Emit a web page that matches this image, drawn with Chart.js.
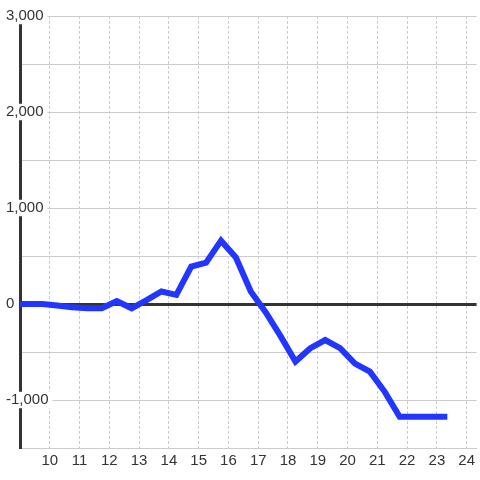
<!DOCTYPE html>
<html>
<head>
<meta charset="utf-8">
<script src="https://cdn.jsdelivr.net/npm/chart.js@4/dist/chart.umd.min.js"></script>
<style>
  html, body { margin: 0; padding: 0; background: #fff; }
  #wrap { width: 480px; height: 480px; position: relative; }
</style>
</head>
<body>
<div id="wrap"><canvas id="chart"></canvas></div>
<script>
// hour of day (half-hour steps) and value at that time
const hours = [8.75, 9.25, 9.75, 10.25, 10.75, 11.25, 11.75, 12.25, 12.75, 13.25,
               13.75, 14.25, 14.75, 15.25, 15.75, 16.25, 16.75, 17.25, 17.75, 18.25,
               18.75, 19.25, 19.75, 20.25, 20.75, 21.25, 21.75, 22.25, 22.75, 23.25];
const values = [0, 0, 0, -15, -35, -45, -45, 30, -45, 40,
                130, 95, 390, 430, 660, 485, 130, -85, -335, -600,
                -460, -375, -460, -620, -705, -915, -1175, -1175, -1175, -1175];

const xTickValues = [10, 11, 12, 13, 14, 15, 16, 17, 18, 19, 20, 21, 22, 23, 24];
const xTickLabels = ['10', '11', '12', '13', '14', '15', '16', '17', '18', '19', '20', '21', '22', '23', '24'];
const yTickValues = [-1500, -1000, -500, 0, 500, 1000, 1500, 2000, 2500, 3000];
const yTickLabels = ['', '-1,000', '', '0', '', '1,000', '', '2,000', '', '3,000'];

const points = hours.map((h, i) => ({ x: h, y: values[i] }));
const font = { family: '"Liberation Sans", Arial, sans-serif', size: 15, lineHeight: 1.1 };

new Chart(document.getElementById('chart'), {
    type: 'line',
    data: {
        datasets: [{
            data: points,
            borderColor: '#2236ff',
            borderWidth: 6,
            borderCapStyle: 'square',
            pointRadius: 0,
            tension: 0,
            fill: false
        }]
    },
    options: {
        responsive: true,
        maintainAspectRatio: false,
        animation: false,
        layout: { padding: { left: 6, top: 16, right: 0, bottom: 0 } },
        plugins: { legend: { display: false }, tooltip: { enabled: false } },
        scales: {
            x: {
                type: 'linear',
                min: 9,
                max: 9 + 460 / 30,
                afterBuildTicks: s => { s.ticks = xTickValues.map(v => ({ value: v })); },
                afterFit: s => { s.height = 32; },
                grid: { color: '#cccccc', lineWidth: 1, drawTicks: false, z: -2 },
                border: { color: '#cccccc', width: 1, dash: [3, 2] },
                ticks: {
                    padding: 5,
                    color: '#333',
                    font: font,
                    maxRotation: 0,
                    callback: (v, i) => xTickLabels[i]
                }
            },
            y: {
                min: -1500,
                max: 3000,
                afterBuildTicks: s => { s.ticks = yTickValues.map(v => ({ value: v })); },
                afterFit: s => { s.width = 14; },
                grid: {
                    drawTicks: false,
                    color: c => c.tick && c.tick.value === 0 ? '#333333' : '#cccccc',
                    lineWidth: c => c.tick && c.tick.value === 0 ? 3 : 1
                },
                border: { color: '#333333', width: 3 },
                ticks: {
                    mirror: true,
                    crossAlign: 'near',
                    padding: -14,
                    color: '#333',
                    font: font,
                    showLabelBackdrop: true,
                    backdropColor: c => yTickLabels[c.index] ? '#ffffff' : 'rgba(0,0,0,0)',
                    backdropPadding: { top: 0, bottom: 0, left: 2, right: 4 },
                    callback: (v, i) => yTickLabels[i]
                }
            }
        }
    }
});
</script>
</body>
</html>
